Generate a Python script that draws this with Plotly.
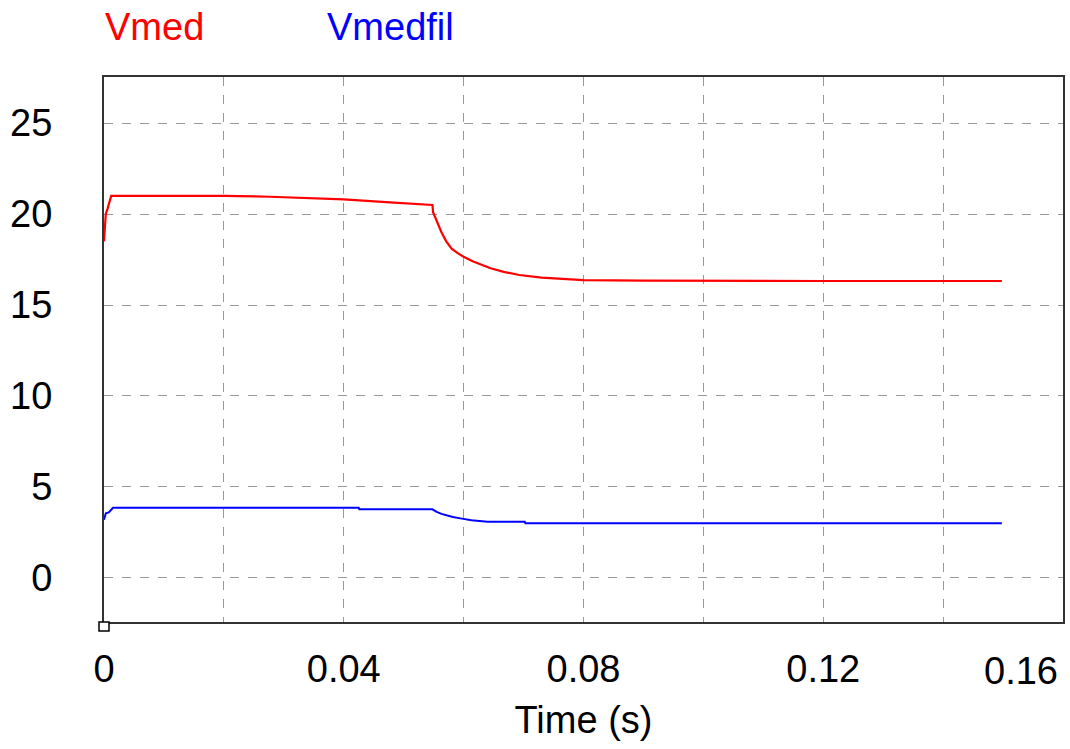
import plotly.graph_objects as go

# Vmed (red)
t_vmed = [0, 0.0003, 0.0006, 0.0012, 0.01, 0.02, 0.0277, 0.035, 0.04, 0.0477, 0.0532, 0.0548,
          0.0549, 0.0555, 0.0563, 0.0571, 0.058, 0.059, 0.06, 0.0615, 0.063, 0.0645, 0.0667,
          0.0693, 0.073, 0.076, 0.08, 0.09, 0.10, 0.12, 0.1498]
v_vmed = [18.5, 20.0, 20.3, 21.0, 21.0, 21.0, 20.95, 20.88, 20.8, 20.64, 20.53, 20.5,
          20.1, 19.6, 19.0, 18.5, 18.1, 17.85, 17.65, 17.4, 17.2, 17.02, 16.82,
          16.65, 16.5, 16.43, 16.37, 16.34, 16.33, 16.32, 16.32]

# Vmedfil (blue)
t_fil = [0, 0.0003, 0.0008, 0.0015, 0.0425, 0.0426, 0.0548, 0.0555, 0.0563, 0.0572, 0.0582,
         0.0597, 0.0613, 0.064, 0.0702, 0.0703, 0.1498]
v_fil = [3.2, 3.55, 3.6, 3.86, 3.86, 3.77, 3.77, 3.63, 3.52, 3.44, 3.35,
         3.26, 3.17, 3.09, 3.09, 3.0, 3.0]

x_tickvals = [0, 0.02, 0.04, 0.06, 0.08, 0.10, 0.12, 0.14, 0.16]
x_ticktext = ["0", "", "0.04", "", "0.08", "", "0.12", "", "0.16"]
y_tickvals = [0, 5, 10, 15, 20, 25]
y_ticktext = ["0", "5", "10", "15", "20", "25"]

FONT = "Liberation Sans, Arial, sans-serif"
FS = 38

fig = go.Figure()
fig.add_trace(go.Scatter(x=t_vmed, y=v_vmed, mode="lines", name="Vmed",
                         line=dict(color="#ff0000", width=2.2)))
fig.add_trace(go.Scatter(x=t_fil, y=v_fil, mode="lines", name="Vmedfil",
                         line=dict(color="#0000ff", width=2)))

axis_common = dict(showline=True, linecolor="#333333", linewidth=2, mirror=True,
                   showgrid=True, gridcolor="#999999", griddash="dash", gridwidth=1,
                   zeroline=False, ticks="", tickfont=dict(family=FONT, size=FS, color="black"))

fig.update_layout(
    width=1070, height=749,
    margin=dict(l=104, r=7, t=77, b=127, autoexpand=False),
    paper_bgcolor="white", plot_bgcolor="white",
    showlegend=False,
    xaxis=dict(range=[0, 0.16], tickmode="array", tickvals=x_tickvals,
               ticktext=x_ticktext[:-1] + [""], ticklabelstandoff=12,
               title=dict(text="Time (s)", font=dict(family=FONT, size=FS, color="black"),
                          standoff=18),
               automargin=False,
               **axis_common),
    yaxis=dict(range=[-2.42, 27.53], tickmode="array", tickvals=y_tickvals,
               ticktext=y_ticktext, ticklabelstandoff=42, automargin=False, **axis_common),
)

# last x tick label kept inside the figure
fig.add_annotation(x=x_tickvals[-1], xref="x", y=0, yref="paper", text=x_ticktext[-1],
                   showarrow=False, xanchor="right", yanchor="top", xshift=-3, yshift=-26,
                   font=dict(family=FONT, size=FS, color="black"))

# series labels
fig.add_annotation(x=0, xref="paper", y=1, yref="paper", text="Vmed", showarrow=False,
                   xanchor="left", yanchor="middle", xshift=-1, yshift=50,
                   font=dict(family=FONT, size=FS, color="#ff0000"))
fig.add_annotation(x=0, xref="paper", y=1, yref="paper", text="Vmedfil", showarrow=False,
                   xanchor="left", yanchor="middle", xshift=221, yshift=50,
                   font=dict(family=FONT, size=FS, color="#0000ff"))

# small cursor square at origin corner
fig.add_shape(type="rect", xref="paper", yref="paper", xsizemode="pixel", ysizemode="pixel",
              xanchor=0, yanchor=0, x0=-5, x1=5, y0=-9, y1=0,
              line=dict(color="black", width=1.5), fillcolor="white")

fig.write_html("out.html", config={"displayModeBar": False},
               post_script="document.body.style.margin='0';document.body.style.overflow='hidden';")
